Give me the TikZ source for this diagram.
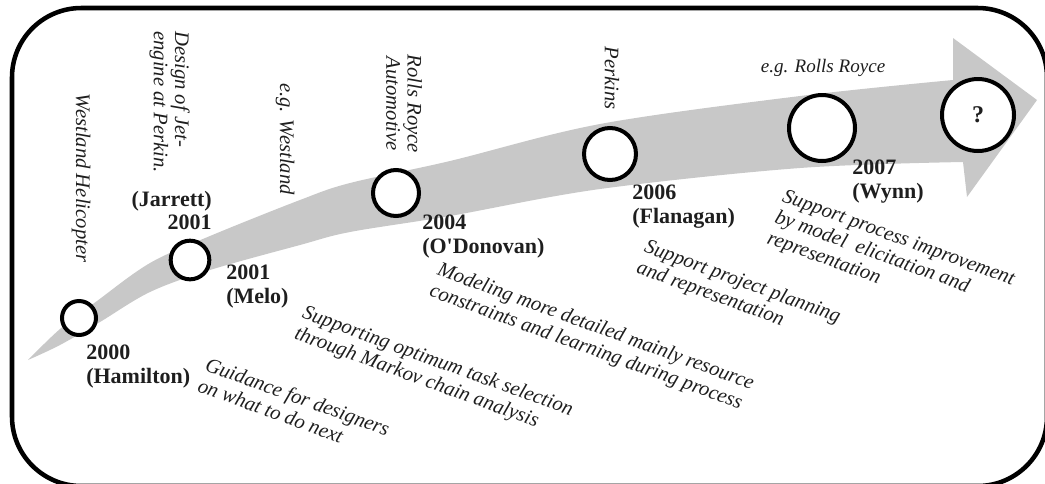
\documentclass[tikz,border=0pt]{standalone}
\usepackage{fontspec}
\setmainfont{Liberation Serif}
\definecolor{arrowgray}{RGB}{200,200,200}
\definecolor{inkdark}{RGB}{30,30,30}
\begin{document}
\begin{tikzpicture}[x=0.75pt,y=-0.75pt,
  frame/.style={draw=black, line width=3.4pt, rounded corners=52pt},
  mile/.style={circle, draw=black, fill=white, line width=3pt, inner sep=0pt, outer sep=0pt},
  yearlbl/.style={font=\bfseries\fontsize{16.5}{17.5}\selectfont, inner sep=0pt, text=inkdark},
  vlbl/.style={font=\itshape\fontsize{15.5}{16}\selectfont, inner sep=0pt, rotate=-90, text=inkdark},
  hlbl/.style={font=\itshape\fontsize{14.3}{16}\selectfont, inner sep=0pt, text=inkdark},
  desc/.style={font=\itshape\fontsize{15.5}{16.8}\selectfont, inner sep=0pt, rotate=-20, align=left, anchor=north west, text=inkdark},
]
\useasboundingbox (0,0) rectangle (1045,483);
\begin{scope}
\clip (0,0) rectangle (1045,483);
\draw[frame] (12,8) rectangle (1047,486);
\end{scope}

% gray curved arrow
\fill[arrowgray]
  plot[smooth, tension=0.55] coordinates {(28,360) (60,329) (97,301) (150,263) (210,236) (300,200) (350,183) (450,161) (600,124) (800,96) (953,80)}
  -- (953,38) -- (1037,100) -- (967,197) -- (963,162)
  -- plot[smooth, tension=0.55] coordinates {(963,162) (800,168) (600,189) (450,216) (350,232) (300,245) (210,270) (150,292) (100,322) (60,345) (28,360)}
  -- cycle;

% milestones
\node[mile, minimum size=25.5pt] (c1) at (79,318) {};
\node[mile, minimum size=29pt] (c2) at (190,260) {};
\node[mile, minimum size=34.5pt] (c3) at (396,193) {};
\node[mile, minimum size=39pt] (c4) at (610,154) {};
\node[mile, minimum size=49.5pt] (c5) at (822,128) {};
\node[mile, minimum size=54pt, font=\bfseries\fontsize{18}{20}\selectfont, text=inkdark] (c6) at (978,115) {?};

% year / author labels
\node[yearlbl, anchor=north west, align=left] (l1) at (86,345) {2000\\(Hamilton)};
\node[yearlbl, anchor=north east, align=right] (l2a) at (212,191) {(Jarrett)\\2001};
\node[yearlbl, anchor=north west, align=left] (l2b) at (226,265) {2001\\(Melo)};
\node[yearlbl, anchor=north west, align=left] (l3) at (422,215) {2004\\(O\textquotesingle Donovan)};
\node[yearlbl, anchor=north west, align=left] (l4) at (632,185) {2006\\(Flanagan)};
\node[yearlbl, anchor=north west, align=left] (l5) at (852,160) {2007\\(Wynn)};

% application labels
\node[vlbl] (v1) at (81,178) {Westland Helicopter};
\node[vlbl, anchor=north west, align=left] (v2) at (190,31) {Design of Jet-\\engine at Perkin.};
\node[vlbl] (v3) at (285,139) {e.g. Westland};
\node[vlbl, align=center] (v4) at (404,104) {Rolls Royce\\Automotive};
\node[vlbl] (v5) at (612,78) {Perkins};
\node[hlbl] (h1) at (823,68) {e.g. Rolls Royce};

% descriptions
\node[desc] (d1) at (209,356) {Guidance for designers\\on what to do next};
\node[desc] (d2) at (306,304) {Supporting optimum task selection\\through Markov chain analysis};
\node[desc] (d3) at (441,261) {Modeling more detailed mainly resource\\constraints and learning during process};
\node[desc] (d4) at (648,238) {Support project planning\\and representation};
\node[desc] (d5) at (786,188) {Support process improvement\\by model\ \ elicitation and\\representation};
\end{tikzpicture}
\end{document}
